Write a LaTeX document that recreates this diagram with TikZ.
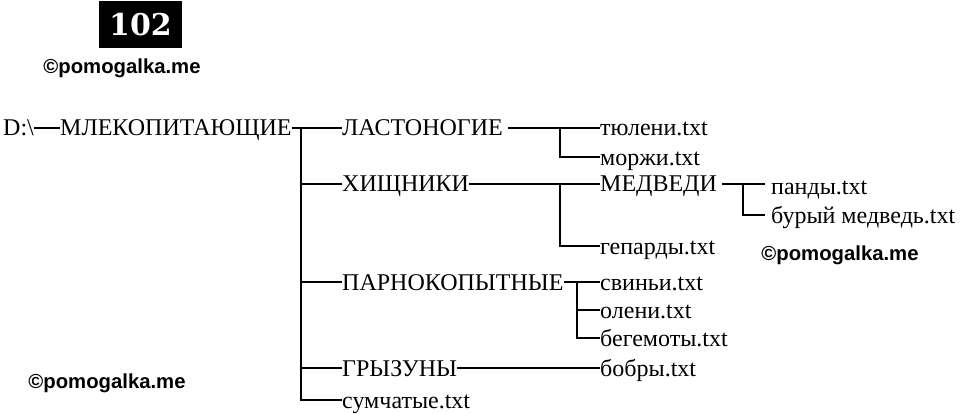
\documentclass[tikz,border=0pt]{standalone}
\usepackage{fontspec}
\setmainfont{Liberation Serif}
\newfontfamily\wmfont{Liberation Sans}
\newfontfamily\numfont{DejaVu Serif}
\usetikzlibrary{positioning,calc}

\begin{document}
\begin{tikzpicture}[x=1pt,y=-1pt,
    item/.style={inner sep=0pt,anchor=west,text height=16pt,text depth=0pt,font=\fontsize{24}{24}\selectfont},
    link/.style={line width=1.6pt},
    wmark/.style={font=\wmfont\bfseries\fontsize{20.3}{20.3}\selectfont}
    ]
    \useasboundingbox (0,0) rectangle (960,414);

    % number and watermarks
    \node[fill=black,text=white,font=\numfont\bfseries\fontsize{30}{30}\selectfont,minimum width=83pt,minimum height=47pt,inner sep=0pt] (num) at (140.5,24.5) {102};
    \node[wmark] (wm1) at (122,68) {©pomogalka.me};
    \node[wmark] (wm2) at (840,255) {©pomogalka.me};
    \node[wmark] (wm3) at (107,383) {©pomogalka.me};

    % folders and files
    \node[item] (drive) at (3,128) {D:\textbackslash};
    \node[item] (mlek) at (60,128) {МЛЕКОПИТАЮЩИЕ};

    \node[item] (lasto) at (342,128) {ЛАСТОНОГИЕ};
    \node[item] (hish) at (342,184) {ХИЩНИКИ};
    \node[item] (parn) at (342,282) {ПАРНОКОПЫТНЫЕ};
    \node[item] (gryz) at (342,368) {ГРЫЗУНЫ};
    \node[item] (sumch) at (342,400) {сумчатые.txt};

    \node[item] (tyul) at (600,128) {тюлени.txt};
    \node[item] (morzh) at (600,157) {моржи.txt};
    \node[item] (medv) at (600,184) {МЕДВЕДИ};
    \node[item] (gep) at (600,246) {гепарды.txt};
    \node[item] (svin) at (600,282) {свиньи.txt};
    \node[item] (olen) at (600,310) {олени.txt};
    \node[item] (begem) at (600,338) {бегемоты.txt};
    \node[item] (bobr) at (600,368) {бобры.txt};

    \node[item] (pand) at (771,186) {панды.txt};
    \node[item] (bur) at (771,215) {бурый медведь.txt};

    % junctions
    \coordinate (trunk) at (301,128);
    \coordinate (j1) at (560,128);
    \coordinate (j2) at (560,184);
    \coordinate (j3) at (743,184);
    \coordinate (j4) at (577,282);

    % connectors
    \draw[link] (drive.east) -- (mlek.west);
    \draw[link] (mlek.east) -- (lasto.west);
    \draw[link] (trunk) |- (sumch.west);
    \foreach \n in {hish,parn,gryz}
      \draw[link] (trunk |- \n.west) -- (\n.west);

    \draw[link] ([xshift=5pt]lasto.east) -- (tyul.west);
    \draw[link] (j1) |- (morzh.west);

    \draw[link] (hish.east) -- (medv.west);
    \draw[link] (j2) |- (gep.west);

    \draw[link] ([xshift=5pt]medv.east) -- ([xshift=-6pt]pand.west |- medv.west);
    \draw[link] (j3) |- ([xshift=-6pt]bur.west);

    \draw[link] (parn.east) -- (svin.west);
    \draw[link] (j4) |- (begem.west);
    \draw[link] (j4 |- olen.west) -- (olen.west);

    \draw[link] (gryz.east) -- (bobr.west);

  \end{tikzpicture}
\end{document}
